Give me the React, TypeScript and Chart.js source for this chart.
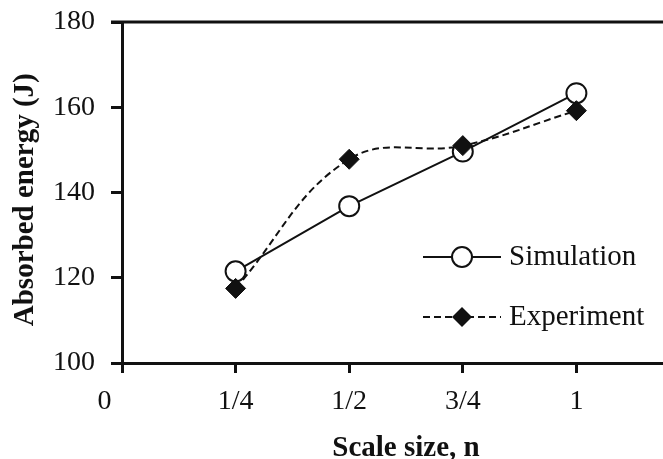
import React, { useEffect, useRef } from "react";
import { Chart, registerables } from "chart.js";

Chart.register(...registerables);

const scaleSizes = [0.25, 0.5, 0.75, 1];
const simulation = [121.5, 136.8, 149.6, 163.3];
const experiment = [117.5, 147.8, 151.0, 159.2];
const xTickValues = [0, 0.25, 0.5, 0.75, 1];
const xTickLabels = ["0\u00a0\u00a0\u00a0\u00a0\u00a0", "1/4", "1/2", "3/4", "1"];
const seriesNames = ["Simulation", "Experiment"];

const SERIF = "'Liberation Serif', 'Times New Roman', serif";
const INK = "#111111";

const topLinePlugin = {
  id: "topLine",
  afterDraw(chart: any) {
    const { ctx, chartArea } = chart;
    ctx.save();
    ctx.strokeStyle = INK;
    ctx.lineWidth = 3;
    ctx.beginPath();
    ctx.moveTo(chartArea.left - 11, chartArea.top);
    ctx.lineTo(chartArea.right, chartArea.top);
    ctx.stroke();
    ctx.restore();
  },
};

const legendPlugin = {
  id: "insideLegend",
  afterDraw(chart: any) {
    const { ctx, chartArea } = chart;
    const x0 = chartArea.left + 301;
    const x1 = x0 + 78;
    const xm = (x0 + x1) / 2;
    const rows = [chartArea.top + 235, chartArea.top + 295];
    ctx.save();
    ctx.strokeStyle = INK;
    ctx.lineWidth = 2;
    ctx.setLineDash([]);
    ctx.beginPath();
    ctx.moveTo(x0, rows[0]);
    ctx.lineTo(x1, rows[0]);
    ctx.stroke();
    ctx.beginPath();
    ctx.arc(xm, rows[0], 10, 0, Math.PI * 2);
    ctx.fillStyle = "#ffffff";
    ctx.fill();
    ctx.stroke();
    ctx.setLineDash([7, 4]);
    ctx.beginPath();
    ctx.moveTo(x0, rows[1]);
    ctx.lineTo(x1, rows[1]);
    ctx.stroke();
    ctx.setLineDash([]);
    ctx.beginPath();
    ctx.moveTo(xm, rows[1] - 10);
    ctx.lineTo(xm + 10, rows[1]);
    ctx.lineTo(xm, rows[1] + 10);
    ctx.lineTo(xm - 10, rows[1]);
    ctx.closePath();
    ctx.fillStyle = INK;
    ctx.fill();
    ctx.font = `29px ${SERIF}`;
    ctx.fillStyle = INK;
    ctx.textAlign = "left";
    ctx.textBaseline = "middle";
    ctx.fillText(seriesNames[0], x1 + 8, rows[0]);
    ctx.fillText(seriesNames[1], x1 + 8, rows[1]);
    ctx.restore();
  },
};

export default function App() {
  const canvasRef = useRef<HTMLCanvasElement | null>(null);

  useEffect(() => {
    if (!canvasRef.current) return;
    const chart = new Chart(canvasRef.current, {
      type: "line",
      data: {
        datasets: [
          {
            label: seriesNames[0],
            data: scaleSizes.map((x, i) => ({ x, y: simulation[i] })),
            borderColor: INK,
            borderWidth: 2,
            tension: 0,
            pointStyle: "circle",
            pointRadius: 10,
            pointBorderWidth: 2,
            pointBorderColor: INK,
            pointBackgroundColor: "#ffffff",
            order: 1,
          },
          {
            label: seriesNames[1],
            data: scaleSizes.map((x, i) => ({ x, y: experiment[i] })),
            borderColor: INK,
            borderWidth: 2,
            borderDash: [7, 4],
            tension: 0.4,
            pointStyle: "rectRot",
            pointRadius: 10,
            pointBorderWidth: 1,
            pointBorderColor: INK,
            pointBackgroundColor: INK,
            order: 0,
          },
        ],
      },
      options: {
        animation: false,
        responsive: true,
        maintainAspectRatio: false,
        layout: { padding: { top: 22, left: 0, right: 0, bottom: 0 } },
        plugins: {
          legend: { display: false },
          tooltip: { enabled: false },
        },
        scales: {
          x: {
            type: "linear",
            min: 0,
            max: 1.25,
            afterBuildTicks: (scale: any) => {
              scale.ticks = xTickValues.map((v) => ({ value: v }));
            },
            afterFit: (scale: any) => {
              scale.height = 96;
              scale.paddingLeft = 0;
              scale.paddingRight = 0;
            },
            border: { display: true, color: INK, width: 3 },
            grid: {
              display: true,
              drawOnChartArea: false,
              drawTicks: true,
              tickLength: 10,
              color: INK,
              lineWidth: 3,
            },
            ticks: {
              padding: 12,
              color: INK,
              font: { family: SERIF, size: 28 },
              maxRotation: 0,
              autoSkip: false,
              callback: (value: any) => {
                const idx = xTickValues.indexOf(Number(value));
                return idx >= 0 ? xTickLabels[idx] : "";
              },
            },
            title: {
              display: true,
              text: "Scale size, n",
              color: INK,
              font: { family: SERIF, size: 29, weight: "bold", lineHeight: 0.75 },
              padding: { top: 0, bottom: 0 },
            },
          },
          y: {
            min: 100,
            max: 180,
            afterFit: (scale: any) => {
              scale.width = 122;
              scale.paddingTop = 0;
              scale.paddingBottom = 0;
            },
            border: { display: true, color: INK, width: 3 },
            grid: {
              display: true,
              drawOnChartArea: false,
              drawTicks: true,
              tickLength: 11,
              color: INK,
              lineWidth: 3,
            },
            ticks: {
              stepSize: 20,
              padding: 16,
              color: INK,
              font: { family: SERIF, size: 28 },
            },
            title: {
              display: true,
              text: "Absorbed energy (J)\u00a0\u00a0",
              color: INK,
              font: { family: SERIF, size: 29, weight: "bold", lineHeight: 1 },
              padding: { top: 11, bottom: 0 },
            },
          },
        },
      },
      plugins: [topLinePlugin, legendPlugin],
    });
    return () => chart.destroy();
  }, []);

  return (
    <div
      style={{
        position: "fixed",
        left: 0,
        top: 0,
        width: 663,
        height: 459,
        overflow: "hidden",
        background: "#ffffff",
      }}
    >
      <div style={{ position: "relative", width: 702, height: 459 }}>
        <canvas ref={canvasRef} />
      </div>
    </div>
  );
}
